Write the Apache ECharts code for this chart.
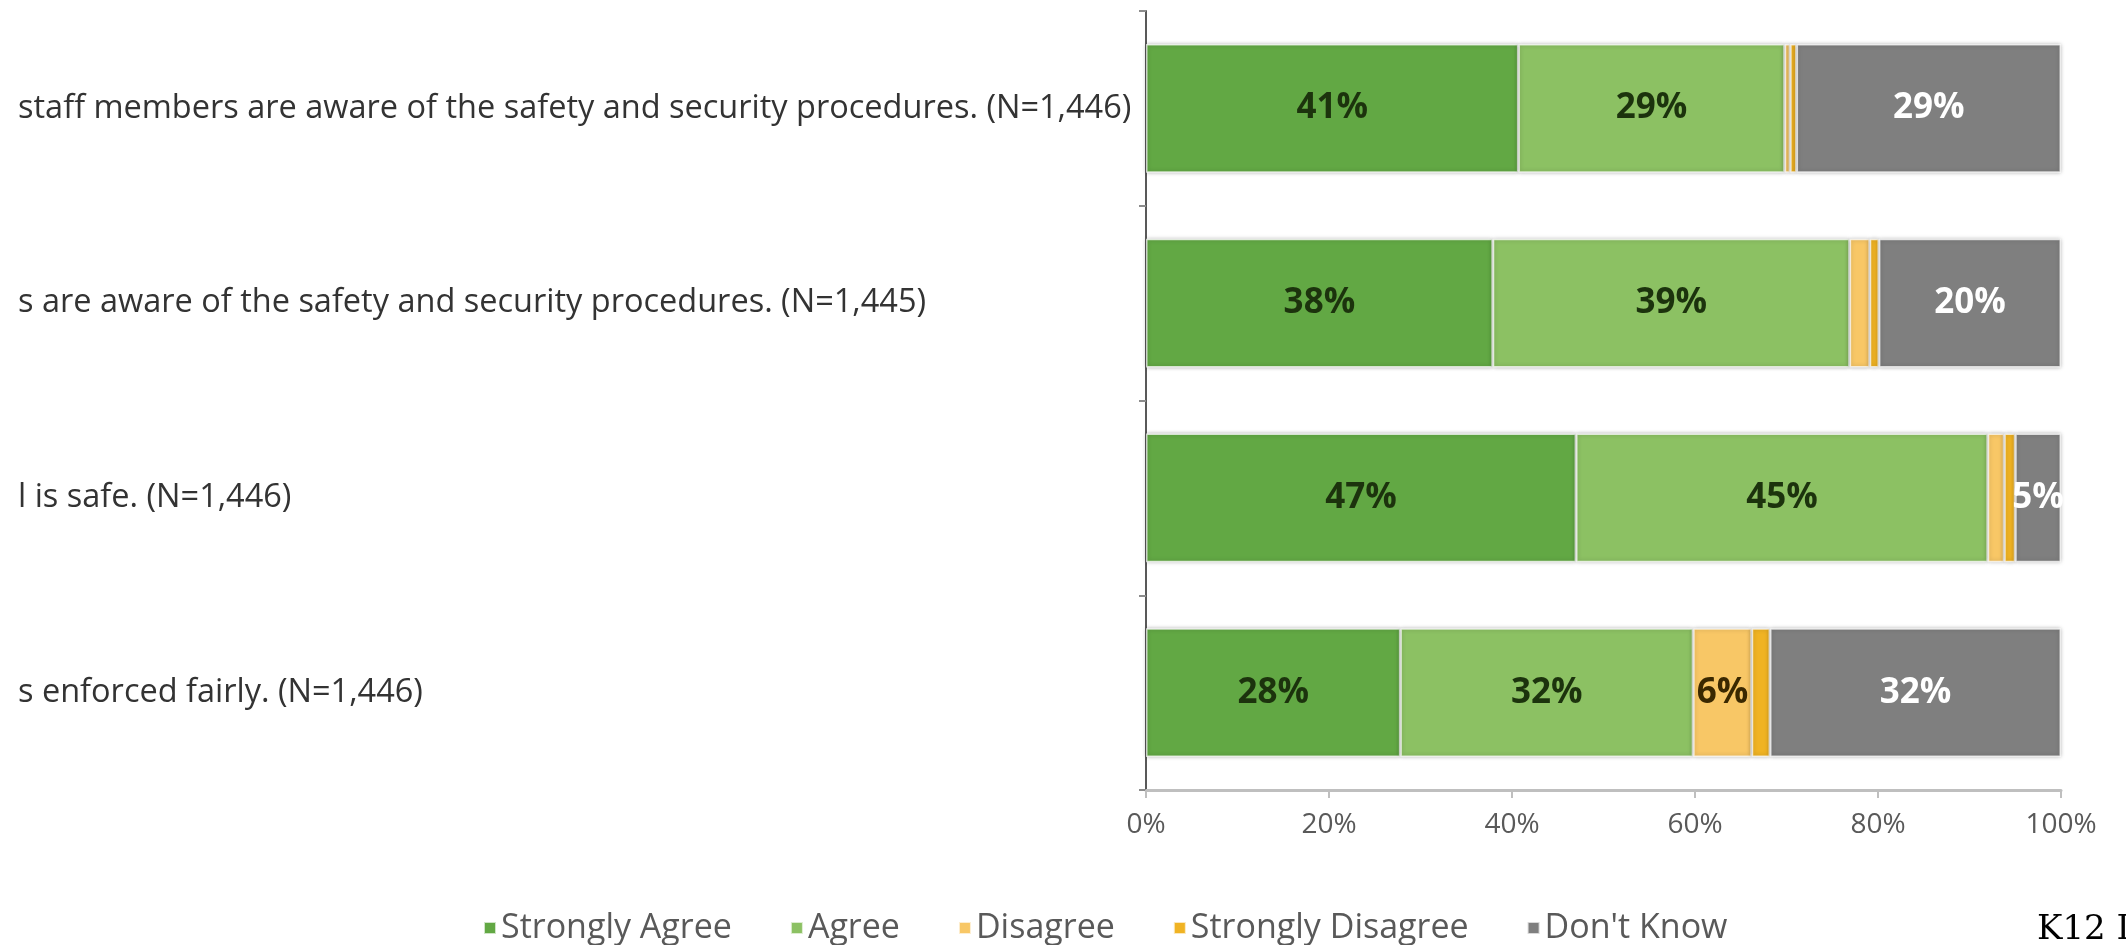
<!DOCTYPE html>
<html>
<head>
<meta charset="utf-8">
<script src="https://cdn.jsdelivr.net/npm/echarts@6/dist/echarts.min.js"></script>
<style>
  html, body { margin: 0; padding: 0; background: #fff; }
  #chart { width: 2126px; height: 945px; }
</style>
</head>
<body>
<div id="chart"></div>
<script>
// statements, top to bottom (left part of the text is cropped in the source)
const categories = [
  'staff members are aware of the safety and security procedures. (N=1,446)',
  's are aware of the safety and security procedures. (N=1,445)',
  'l is safe. (N=1,446)',
  's enforced fairly. (N=1,446)'
];

// percent of respondents
const strongAgree = [40.7, 37.9, 47.0, 27.8];
const agree = [29.1, 39.0, 45.0, 32.0];
const disagree = [0.6, 2.2, 1.8, 6.4];
const strongDisagree = [0.7, 1.0, 1.2, 2.0];
const dontKnow = [28.9, 19.9, 5.0, 31.8];

const xTicks = [0, 20, 40, 60, 80, 100];

const seriesDefs = [
  { name: 'Strongly Agree', data: strongAgree, color: '#62a844', text: '#1c330d' },
  { name: 'Agree', data: agree, color: '#8cc163', text: '#1c330d' },
  { name: 'Disagree', data: disagree, color: '#f8c766', text: '#3a2800' },
  { name: 'Strongly Disagree', data: strongDisagree, color: '#f0b323', text: '#3a2800' },
  { name: "Don't Know", data: dontKnow, color: '#7f7f7f', text: '#ffffff' }
];

const chart = echarts.init(document.getElementById('chart'));

chart.setOption({
  animation: false,
  grid: { left: 1146, right: 65, top: 11, bottom: 155, containLabel: false },
  xAxis: {
    type: 'value',
    min: xTicks[0],
    max: xTicks[xTicks.length - 1],
    interval: 20,
    splitLine: { show: false },
    axisLine: { show: true, lineStyle: { color: '#bfbfbf', width: 3 } },
    axisTick: { show: true, length: 8, lineStyle: { color: '#bfbfbf', width: 2 } },
    axisLabel: {
      formatter: '{value}%',
      color: '#595959',
      fontFamily: 'Open Sans',
      fontSize: 28,
      margin: 21
    }
  },
  yAxis: {
    type: 'category',
    inverse: true,
    data: categories,
    axisLine: { show: true, lineStyle: { color: '#595959', width: 2 } },
    axisTick: { show: true, length: 7, lineStyle: { color: '#8c8c8c', width: 2 } },
    axisLabel: {
      align: 'left',
      margin: 1128,
      color: '#333333',
      fontFamily: 'Open Sans',
      fontSize: 32.5
    }
  },
  legend: {
    data: seriesDefs.map(s => s.name),
    left: 478,
    top: 906,
    icon: 'rect',
    itemWidth: 12,
    itemHeight: 12,
    itemGap: 58,
    textStyle: { color: '#595959', fontFamily: 'Open Sans', fontSize: 34 }
  },
  graphic: [{
    type: 'text',
    left: 2037,
    top: 913,
    style: { text: 'K12 Insight', font: '34px "DejaVu Serif"', fill: '#000' }
  }],
  series: seriesDefs.map(s => ({
    name: s.name,
    type: 'bar',
    stack: 'total',
    barCategoryGap: '34%',
    data: s.data,
    itemStyle: {
      color: s.color,
      borderColor: 'rgba(255,255,255,0.7)',
      borderWidth: 1.5,
      shadowColor: 'rgba(0,0,0,0.3)',
      shadowBlur: 4
    },
    label: {
      show: true,
      position: 'inside',
      color: s.text,
      fontFamily: 'Open Sans',
      fontWeight: 'bold',
      fontSize: 35,
      formatter: p => (p.value >= 5 ? Math.round(p.value) + '%' : '')
    }
  }))
});
</script>
</body>
</html>
